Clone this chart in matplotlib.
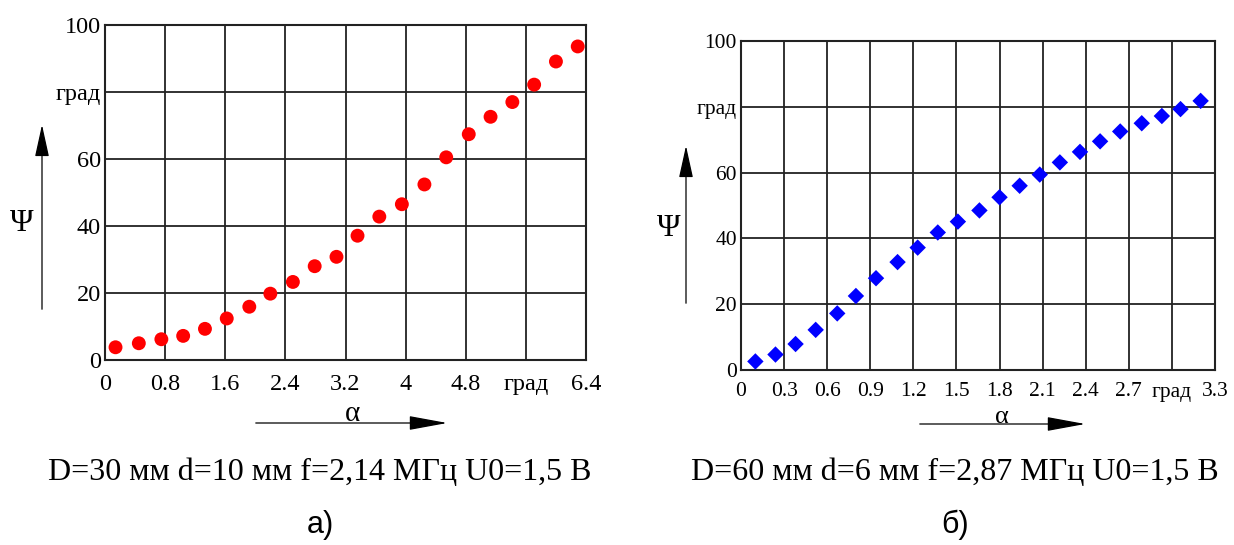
import matplotlib
matplotlib.use("Agg")
import matplotlib.pyplot as plt
import numpy as np

plt.rcParams['font.family'] = ['Liberation Serif', 'DejaVu Serif']

# ---- data ----
alpha_a = [0.14, 0.45, 0.75, 1.04, 1.33, 1.62, 1.92, 2.20, 2.50, 2.79, 3.08,
           3.36, 3.65, 3.95, 4.25, 4.54, 4.84, 5.13, 5.42, 5.71, 6.00, 6.29]
psi_a = [3.8, 5.0, 6.2, 7.2, 9.3, 12.4, 15.9, 19.8, 23.3, 28.0, 30.8,
         37.1, 42.8, 46.5, 52.4, 60.5, 67.4, 72.6, 77.0, 82.2, 89.1, 93.6]

alpha_b = [0.10, 0.24, 0.38, 0.52, 0.67, 0.80, 0.94, 1.09, 1.23, 1.37, 1.51, 1.66,
           1.80, 1.94, 2.08, 2.22, 2.36, 2.50, 2.64, 2.79, 2.93, 3.06, 3.20]
psi_b = [2.6, 4.7, 7.9, 12.2, 17.2, 22.5, 27.9, 32.8, 37.2, 41.8, 45.1, 48.5,
         52.5, 56.0, 59.4, 63.1, 66.3, 69.5, 72.5, 75.0, 77.2, 79.3, 81.8]

xticks_a = [0, 0.8, 1.6, 2.4, 3.2, 4.0, 4.8, 5.6, 6.4]
xlabels_a = ['0', '0.8', '1.6', '2.4', '3.2', '4', '4.8', 'град', '6.4']
xticks_b = [0, 0.3, 0.6, 0.9, 1.2, 1.5, 1.8, 2.1, 2.4, 2.7, 3.0, 3.3]
xlabels_b = ['0', '0.3', '0.6', '0.9', '1.2', '1.5', '1.8', '2.1', '2.4', '2.7', 'град', '3.3']
yticks = [0, 20, 40, 60, 80, 100]
ylabels = ['0', '20', '40', '60', 'град', '100']

caption_a = 'D=30 мм d=10 мм f=2,14 МГц U0=1,5 В'
caption_b = 'D=60 мм d=6 мм f=2,87 МГц U0=1,5 В'

W, H = 1234, 545
fig = plt.figure(figsize=(W / 100, H / 100), dpi=100)


def fx(px):
    return px / W


def fy(py):
    return 1 - py / H


def setup(ax, xmax, xticks, xlabels, fs, xpad):
    ax.set_xlim(0, xmax)
    ax.set_ylim(0, 100)
    ax.set_xticks(xticks)
    ax.set_xticklabels(xlabels)
    ax.set_yticks(yticks)
    ax.set_yticklabels(ylabels)
    ax.tick_params(length=0, labelsize=fs, colors='black')
    ax.tick_params(axis='x', pad=xpad)
    ax.tick_params(axis='y', pad=3)
    ax.grid(True, color='#222222', lw=1.3)
    ax.set_axisbelow(True)
    for s in ax.spines.values():
        s.set_linewidth(1.5)
        s.set_color('#222222')


def axis_arrows(x_ar, y_ar, psi_pos, alpha_pos, alpha_fs):
    # vertical arrow next to Psi
    fig.add_artist(matplotlib.patches.FancyArrowPatch(
        (fx(x_ar[0]), fy(x_ar[1])), (fx(x_ar[0]), fy(x_ar[2])),
        transform=fig.transFigure, arrowstyle='-|>,head_length=1.0,head_width=0.22',
        mutation_scale=20, color='black', lw=0.9))
    # horizontal arrow under alpha
    fig.add_artist(matplotlib.patches.FancyArrowPatch(
        (fx(y_ar[0]), fy(y_ar[2])), (fx(y_ar[1]), fy(y_ar[2])),
        transform=fig.transFigure, arrowstyle='-|>,head_length=1.2,head_width=0.22',
        mutation_scale=20, color='black', lw=0.9))
    fig.text(fx(psi_pos[0]), fy(psi_pos[1]), 'Ψ', fontsize=23, ha='center', va='center')
    fig.text(fx(alpha_pos[0]), fy(alpha_pos[1]), 'α', fontsize=alpha_fs,
             ha='center', va='baseline')


# ---- left chart ----
ax1 = fig.add_axes([fx(105), fy(360), fx(586) - fx(105), fy(25) - fy(360)])
setup(ax1, 6.4, xticks_a, xlabels_a, 17.5, 10)
ax1.scatter(alpha_a, psi_a, s=100, color='#ff0000', marker='o', zorder=3, edgecolors='none')
axis_arrows((42, 312, 122), (253, 450, 423), (22, 223), (352, 421), 21)

# ---- right chart ----
ax2 = fig.add_axes([fx(741), fy(370), fx(1215) - fx(741), fy(41) - fy(370)])
setup(ax2, 3.3, xticks_b, xlabels_b, 15.5, 9)
ax2.scatter(alpha_b, psi_b, s=70, color='#0000ff', marker='D', zorder=3, edgecolors='none')
axis_arrows((686, 306, 143), (917, 1088, 424), (669, 229), (1002, 423), 19)

# ---- captions ----
fig.text(fx(320), fy(473), caption_a, fontsize=23, ha='center', va='center')
fig.text(fx(320), fy(525), 'а)', fontsize=22, ha='center', va='center',
         family=['Liberation Sans', 'DejaVu Sans'])
fig.text(fx(955), fy(473), caption_b, fontsize=23, ha='center', va='center')
fig.text(fx(955), fy(525), 'б)', fontsize=22, ha='center', va='center',
         family=['Liberation Sans', 'DejaVu Sans'])

fig.savefig('out.png', dpi=100, facecolor='white')
